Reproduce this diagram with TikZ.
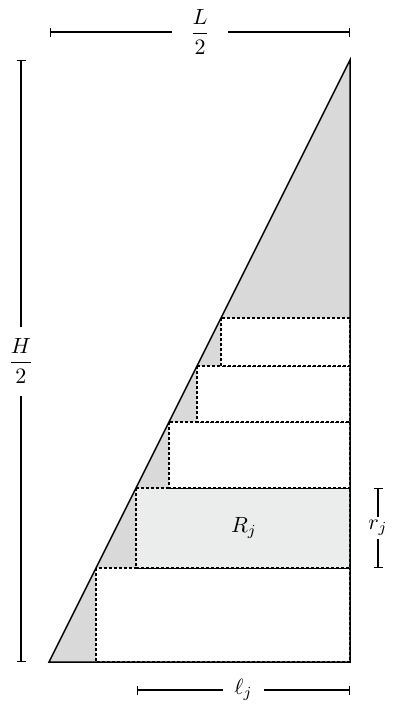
\documentclass[tikz,border=0pt]{standalone}
\usepackage{amsmath}
\usepackage{graphicx}
\usetikzlibrary{arrows.meta}
\definecolor{greyfill}{HTML}{D9D9D9}
\definecolor{rfill}{HTML}{EBECEC}
\begin{document}
\begin{tikzpicture}[x=1pt,y=-1pt,
  solidline/.style={line width=1.5pt, line join=miter},
  dashline/.style={line width=1.1pt, dash pattern=on 3pt off 2pt},
  dimline/.style={line width=1.1pt, {Bar[width=9pt]}-{Bar[width=9pt]}},
  lab/.style={fill=white, inner sep=3pt}]
\useasboundingbox (0,0) rectangle (396,705);
\coordinate (A) at (49,662);
\coordinate (B) at (350,662);
\coordinate (C) at (350,60);
\fill[greyfill] (A) -- (B) -- (C) -- cycle;
% rectangles: left x, top y, bottom y
\foreach \lx/\ty/\by/\col in {96/568/662/white, 136/488/568/rfill, 169/422/488/white, 197/366/422/white, 221/318/366/white}{
  \fill[\col] (\lx,\ty) rectangle (350,\by);
  \draw[dashline] (\lx,\ty) rectangle (350,\by);
}
\node (R) at (244,528) {\scalebox{2.2}{$R_j$}};
\draw[solidline] (A) -- (B) -- (C) -- cycle;
% dimension lines
\coordinate (T1) at (50,32);
\coordinate (T2) at (350,32);
\draw[dimline] (T1) -- (T2) node[midway, lab, inner xsep=18pt, inner ysep=1pt] (Lh) {\scalebox{2.2}{$\dfrac{L}{2}$}};
\coordinate (L1) at (21,60);
\coordinate (L2) at (21,662);
\draw[dimline] (L1) -- (L2) node[midway, lab, inner ysep=12pt, inner xsep=1pt] (Hh) {\scalebox{2.2}{$\dfrac{H}{2}$}};
\coordinate (B1) at (137,690);
\coordinate (B2) at (350,690);
\draw[dimline] (B1) -- (B2) node[midway, lab, inner xsep=11pt, inner ysep=1pt] (lj) {\scalebox{2.2}{$\ell_j$}};
\coordinate (S1) at (378,488);
\coordinate (S2) at (378,568);
\draw[dimline] (S1) -- (S2) node[midway, lab, inner ysep=3pt, inner xsep=1pt] (rj) {\scalebox{2.2}{$r_j$}};
\end{tikzpicture}
\end{document}
